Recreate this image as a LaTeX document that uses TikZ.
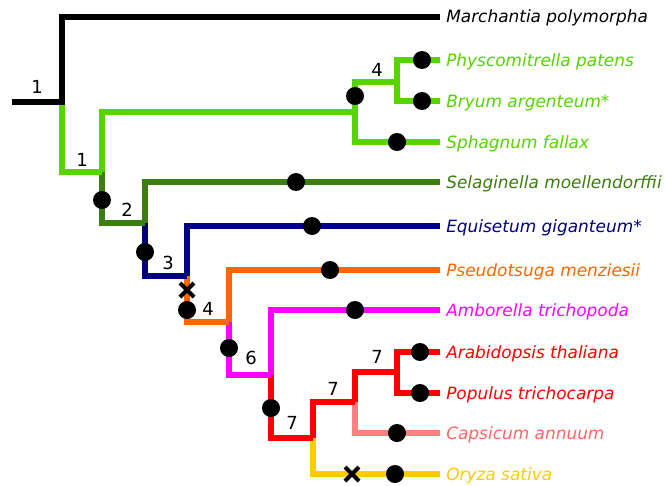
\documentclass[tikz,border=0pt]{standalone}
\usepackage{fontspec}
\setmainfont{DejaVu Sans}
\begin{document}
\begin{tikzpicture}[x=0.75pt,y=-0.75pt,
  br/.style={line width=3.8pt,line join=miter},
  dotm/.style={circle,fill=black,inner sep=0pt,minimum size=13.5pt},
  num/.style={inner sep=0pt,font=\fontsize{13.5}{16}\selectfont,text=black},
  tax/.style={anchor=base west,inner sep=0pt,font=\fontsize{12.7}{15}\selectfont\itshape},
  xm/.style={line width=3pt}]
\definecolor{cgreen}{HTML}{55D400}
\definecolor{cdgreen}{HTML}{3C7D0F}
\definecolor{cnavy}{HTML}{000080}
\definecolor{corange}{HTML}{FF6600}
\definecolor{cmag}{HTML}{FF00FF}
\definecolor{cred}{HTML}{FF0000}
\definecolor{csal}{HTML}{FF8080}
\definecolor{csalt}{HTML}{FF6666}
\definecolor{cyel}{HTML}{FFCC00}
\fill[white] (0,0) rectangle (666,485);
\useasboundingbox (0,0) rectangle (666,485);
% junction coordinates
\coordinate (root) at (12,102);
\coordinate (n1) at (62,102);
\coordinate (n2) at (102,172);
\coordinate (mA) at (355,112);
\coordinate (mB) at (397,82);
\coordinate (n3) at (145,223);
\coordinate (n4) at (187,276);
\coordinate (n5) at (229,322);
\coordinate (n6) at (271,375);
\coordinate (n7) at (313,438);
\coordinate (n8) at (355,402);
\coordinate (n9) at (397,372);
% tips
\coordinate (tMar) at (440,17);
\coordinate (tPhy) at (440,60);
\coordinate (tBry) at (440,101);
\coordinate (tSph) at (440,142);
\coordinate (tSel) at (440,182);
\coordinate (tEqu) at (440,226);
\coordinate (tPse) at (440,270);
\coordinate (tAmb) at (440,310);
\coordinate (tAra) at (440,352);
\coordinate (tPop) at (440,393);
\coordinate (tCap) at (440,433);
\coordinate (tOry) at (440,474);
% branches
\draw[br,cyel] (n7) |- (tOry);
\draw[br,csal] (n8) |- (tCap);
\draw[br,cred] (n6) |- (n7);
\draw[br,cred] (n7) |- (n8);
\draw[br,cred] (n8) |- (n9);
\draw[br,cred] (n9) |- (tAra);
\draw[br,cred] (n9) |- (tPop);
\draw[br,cmag] (n5) |- (n6);
\draw[br,cmag] (n6) |- (tAmb);
\draw[br,corange] (n4) |- (n5);
\draw[br,corange] (n5) |- (tPse);
\draw[br,cnavy] (n3) |- (n4);
\draw[br,cnavy] (n4) |- (tEqu);
\draw[br,cdgreen] (n2) |- (n3);
\draw[br,cdgreen] (n3) |- (tSel);
\draw[br,cgreen] (n1) |- (n2);
\draw[br,cgreen] (n2) |- (mA);
\draw[br,cgreen] (mA) |- (mB);
\draw[br,cgreen] (mB) |- (tPhy);
\draw[br,cgreen] (mB) |- (tBry);
\draw[br,cgreen] (mA) |- (tSph);
\draw[br,black] (root) -- (n1) |- (tMar);
% dots
\foreach \p in {(355,96),(422,60),(422,101),(397,142),(102,200),(296,182),(145,252),(312,226),(187,310),(330,270),(229,348),(355,310),(271,408),(420,352),(420,393),(397,433),(395,474)}
  \node[dotm] at \p {};
% losses
\draw[xm] (180,283) -- (194,297) (180,297) -- (194,283);
\draw[xm] (345,467) -- (359,481) (345,481) -- (359,467);
% numbers
\node[num] (k1) at (37,87) {1};
\node[num] (k2) at (82,160) {1};
\node[num] (k3) at (127,210) {2};
\node[num] (k4) at (168,263) {3};
\node[num] (k5) at (208,309) {4};
\node[num] (k6) at (251,358) {6};
\node[num] (k7) at (292,423) {7};
\node[num] (k8) at (333,389) {7};
\node[num] (k9) at (377,357) {7};
\node[num] (k10) at (377,70) {4};
% taxa
\node[tax,text=black] (lMar) at (446,23) {Marchantia polymorpha};
\node[tax,text=cgreen] (lPhy) at (446,66) {Physcomitrella patens};
\node[tax,text=cgreen] (lBry) at (446,107) {Bryum argenteum*};
\node[tax,text=cgreen] (lSph) at (446,148) {Sphagnum fallax};
\node[tax,text=cdgreen] (lSel) at (446,188) {Selaginella moellendorffii};
\node[tax,text=cnavy] (lEqu) at (446,232) {Equisetum giganteum*};
\node[tax,text=corange] (lPse) at (446,276) {Pseudotsuga menziesii};
\node[tax,text=cmag] (lAmb) at (446,316) {Amborella trichopoda};
\node[tax,text=cred] (lAra) at (446,358) {Arabidopsis thaliana};
\node[tax,text=cred] (lPop) at (446,399) {Populus trichocarpa};
\node[tax,text=csalt] (lCap) at (446,439) {Capsicum annuum};
\node[tax,text=cyel] (lOry) at (446,480) {Oryza sativa};
\end{tikzpicture}
\end{document}
